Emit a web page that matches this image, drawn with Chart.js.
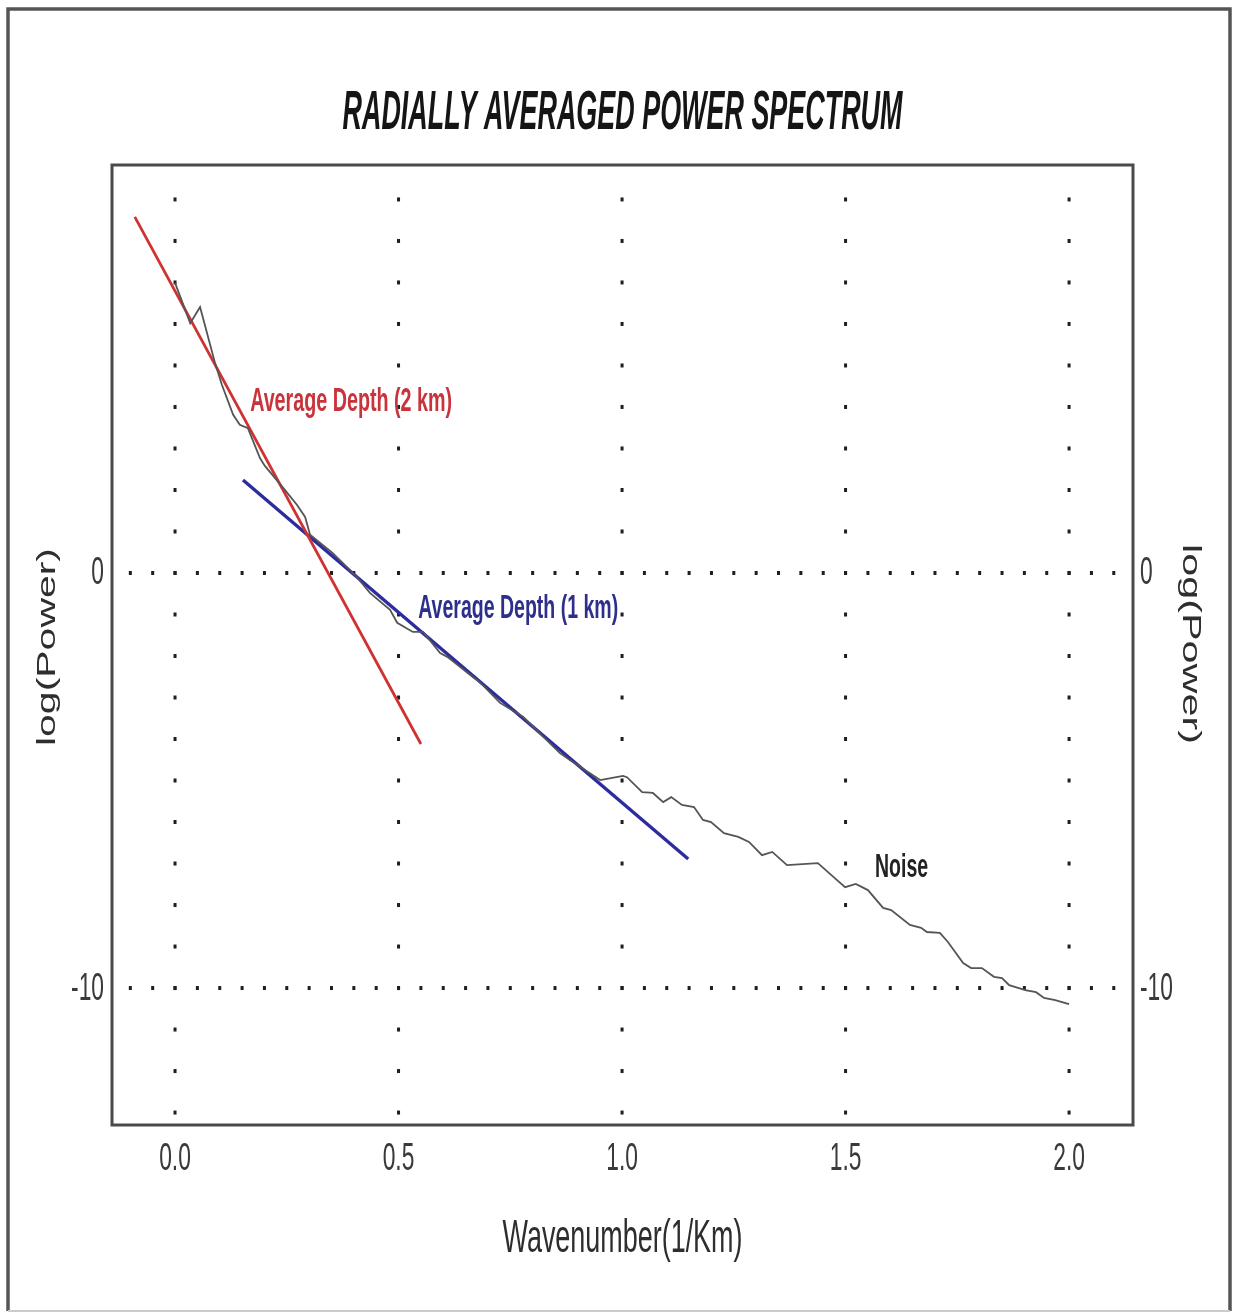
<!DOCTYPE html>
<html lang="es">
<head>
<meta charset="UTF-8">
<title>Radially Averaged Power Spectrum</title>
<script src="https://cdn.jsdelivr.net/npm/chart.js@4.4.1/dist/chart.umd.min.js"></script>
<style>
    html, body { margin: 0; padding: 0; background: #ffffff; }
    #grafico { display: block; }
</style>
</head>
<body>
<canvas id="grafico" width="1235" height="1313"></canvas>
<script>
// --- DATOS ---

// Espectro promediado radialmente (línea gris)
const numeroOnda = [
    0.000, 0.034, 0.056, 0.089, 0.105, 0.130, 0.145, 0.163, 0.190, 0.201,
    0.242, 0.273, 0.291, 0.302, 0.353, 0.407, 0.436, 0.481, 0.497, 0.532,
    0.555, 0.593, 0.609, 0.667, 0.682, 0.727, 0.779, 0.861, 0.884, 0.951,
    0.975, 1.002, 1.011, 1.045, 1.069, 1.092, 1.110, 1.134, 1.161, 1.181,
    1.199, 1.228, 1.260, 1.284, 1.313, 1.336, 1.369, 1.438, 1.481, 1.499,
    1.523, 1.550, 1.584, 1.602, 1.644, 1.669, 1.682, 1.711, 1.729, 1.763,
    1.781, 1.805, 1.832, 1.850, 1.866, 1.902, 1.926, 1.944, 1.969, 2.000
];
const logPotencia = [
    6.99, 6.02, 6.41, 5.08, 4.53, 3.81, 3.57, 3.49, 2.77, 2.58,
    2.05, 1.64, 1.35, 0.92, 0.48, -0.10, -0.48, -0.89, -1.20, -1.42,
    -1.42, -1.93, -2.02, -2.51, -2.63, -3.13, -3.47, -4.34, -4.51, -4.99,
    -4.94, -4.89, -4.92, -5.28, -5.30, -5.52, -5.40, -5.59, -5.64, -5.95,
    -6.00, -6.27, -6.36, -6.48, -6.80, -6.72, -7.04, -6.99, -7.40, -7.57,
    -7.49, -7.64, -8.07, -8.12, -8.48, -8.55, -8.65, -8.67, -8.89, -9.40,
    -9.52, -9.52, -9.73, -9.76, -9.93, -10.05, -10.10, -10.24, -10.29, -10.39
];

// Rectas de ajuste
const recta2km_x = [-0.090, 0.550];
const recta2km_y = [8.58, -4.12];
const recta1km_x = [0.152, 1.148];
const recta1km_y = [2.24, -6.89];

// Marcas de los ejes
const ticksX = [0.0, 0.5, 1.0, 1.5, 2.0];
const ticksY = [0, -10];

// Rango de los ejes
const rangoX = [-0.141, 2.143];
const rangoY = [-13.30, 9.83];

document.addEventListener('DOMContentLoaded', () => {
    const FUENTE = "'Liberation Sans', Arial, sans-serif";
    const COMPRESION = 0.6; // la figura original está comprimida en horizontal

    const aPuntos = (xs, ys) => xs.map((x, i) => ({ x: x, y: ys[i] }));

    // Texto ajustado a un ancho dado
    function textoAjustado(c, texto, x, y, ancho, fuente, color, alinear, angulo) {
        c.save();
        c.font = fuente;
        c.fillStyle = color;
        c.textBaseline = 'middle';
        c.textAlign = 'left';
        const medida = c.measureText(texto).width;
        const esc = ancho ? ancho / medida : COMPRESION;
        c.translate(x, y);
        if (angulo) c.rotate(angulo);
        c.scale(esc, 1);
        let dx = 0;
        if (alinear === 'center') dx = -medida / 2;
        if (alinear === 'right') dx = -medida;
        c.fillText(texto, dx, 0);
        c.restore();
    }

    // --- MARCO, CUADRÍCULA PUNTEADA Y TEXTOS ---
    const marcoPlugin = {
        id: 'marco',
        beforeDraw(chart) {
            const c = chart.ctx;
            c.save();
            c.fillStyle = '#ffffff';
            c.fillRect(0, 0, chart.width, chart.height);
            // marco exterior
            c.strokeStyle = '#555555';
            c.lineWidth = 3.5;
            c.beginPath();
            c.moveTo(8, 1311);
            c.lineTo(8, 9);
            c.lineTo(1230, 9);
            c.lineTo(1230, 1311);
            c.stroke();
            c.strokeStyle = '#cccccc';
            c.lineWidth = 2;
            c.beginPath();
            c.moveTo(8, 1311);
            c.lineTo(1230, 1311);
            c.stroke();
            c.restore();
        },
        beforeDatasetsDraw(chart) {
            const c = chart.ctx;
            const sx = chart.scales.x;
            const sy = chart.scales.y;
            c.save();
            c.fillStyle = '#1e1e1e';
            // columnas de puntos en cada marca de x
            ticksX.forEach(gx => {
                const px = sx.getPixelForValue(gx);
                for (let v = -13; v <= 9; v++) {
                    const py = sy.getPixelForValue(v);
                    c.fillRect(px - 1.5, py - 2, 3, 4);
                }
            });
            // filas de puntos en cada marca de y
            ticksY.forEach(gy => {
                const py = sy.getPixelForValue(gy);
                for (let k = -2; k <= 42; k++) {
                    const px = sx.getPixelForValue(k * 0.05);
                    c.fillRect(px - 1.5, py - 2, 3, 4);
                }
            });
            c.restore();
        },
        afterDraw(chart) {
            const c = chart.ctx;
            const a = chart.chartArea;
            const sx = chart.scales.x;
            const sy = chart.scales.y;
            c.save();
            c.strokeStyle = '#4a4a4a';
            c.lineWidth = 3;
            c.strokeRect(a.left, a.top, a.right - a.left, a.bottom - a.top);
            c.restore();

            // etiquetas de las marcas (valores de los ticks de cada escala)
            const fuenteTick = '38px ' + FUENTE;
            sx.ticks.forEach(t => {
                textoAjustado(c, t.label, sx.getPixelForValue(t.value), a.bottom + 35, 0,
                    fuenteTick, '#3a3a3a', 'center');
            });
            sy.ticks.forEach(t => {
                textoAjustado(c, t.label, a.left - 8, sy.getPixelForValue(t.value) + 1, 0,
                    fuenteTick, '#3a3a3a', 'right');
            });
            const sy2 = chart.scales.y2;
            sy2.ticks.forEach(t => {
                textoAjustado(c, t.label, a.right + 7, sy2.getPixelForValue(t.value) + 1, 0,
                    fuenteTick, '#3a3a3a', 'left');
            });

            const centro = (a.left + a.right) / 2;
            textoAjustado(c, 'RADIALLY AVERAGED POWER SPECTRUM', centro, 114, 560,
                'italic bold 56px ' + FUENTE, '#151515', 'center');
            textoAjustado(c, 'Wavenumber(1/Km)', centro, 1239, 240,
                '46px ' + FUENTE, '#2e2e2e', 'center');
            textoAjustado(c, 'log(Power)', 48, 647, 198,
                '26px ' + FUENTE, '#2e2e2e', 'center', -Math.PI / 2);
            textoAjustado(c, 'log(Power)', 1190, 644, 200,
                '26px ' + FUENTE, '#2e2e2e', 'center', Math.PI / 2);

            // etiquetas dentro del gráfico
            const anotaciones = [
                { texto: 'Average Depth (2 km)', x: 0.168, y: 4.12, ancho: 202, color: '#c9333b' },
                { texto: 'Average Depth (1 km)', x: 0.544, y: -0.87, ancho: 200, color: '#2e2f8c' },
                { texto: 'Noise', x: 1.566, y: -7.10, ancho: 53, color: '#222222' }
            ];
            anotaciones.forEach(n => {
                textoAjustado(c, n.texto, sx.getPixelForValue(n.x), sy.getPixelForValue(n.y), n.ancho,
                    'bold 33px ' + FUENTE, n.color, 'left');
            });
        }
    };

    const ejeY = (posicion, ancho) => ({
        type: 'linear',
        position: posicion,
        min: rangoY[0],
        max: rangoY[1],
        grid: { display: false },
        border: { display: false },
        afterBuildTicks: s => { s.ticks = ticksY.map(v => ({ value: v })); },
        afterFit: s => { s.width = ancho; },
        ticks: { display: false, callback: v => String(v) }
    });

    new Chart(document.getElementById('grafico'), {
        type: 'scatter',
        data: {
            datasets: [
                {
                    label: 'Espectro',
                    data: aPuntos(numeroOnda, logPotencia),
                    showLine: true,
                    borderColor: '#555555',
                    borderWidth: 1.8,
                    pointRadius: 0,
                    order: 0
                },
                {
                    label: 'Average Depth (2 km)',
                    data: aPuntos(recta2km_x, recta2km_y),
                    showLine: true,
                    borderColor: '#d03232',
                    borderWidth: 2.8,
                    pointRadius: 0,
                    order: 1
                },
                {
                    label: 'Average Depth (1 km)',
                    data: aPuntos(recta1km_x, recta1km_y),
                    showLine: true,
                    borderColor: '#2c2c9e',
                    borderWidth: 3.4,
                    pointRadius: 0,
                    order: 1
                }
            ]
        },
        options: {
            responsive: false,
            animation: false,
            layout: { padding: { top: 165, left: 0, right: 0, bottom: 0 } },
            plugins: {
                legend: { display: false },
                tooltip: { enabled: false },
                title: { display: false }
            },
            scales: {
                x: {
                    type: 'linear',
                    position: 'bottom',
                    min: rangoX[0],
                    max: rangoX[1],
                    grid: { display: false },
                    border: { display: false },
                    afterBuildTicks: s => { s.ticks = ticksX.map(v => ({ value: v })); },
                    afterFit: s => { s.height = 188; },
                    ticks: { display: false, callback: v => v.toFixed(1) }
                },
                y: ejeY('left', 112),
                y2: ejeY('right', 102)
            }
        },
        plugins: [marcoPlugin]
    });
});
</script>
</body>
</html>
